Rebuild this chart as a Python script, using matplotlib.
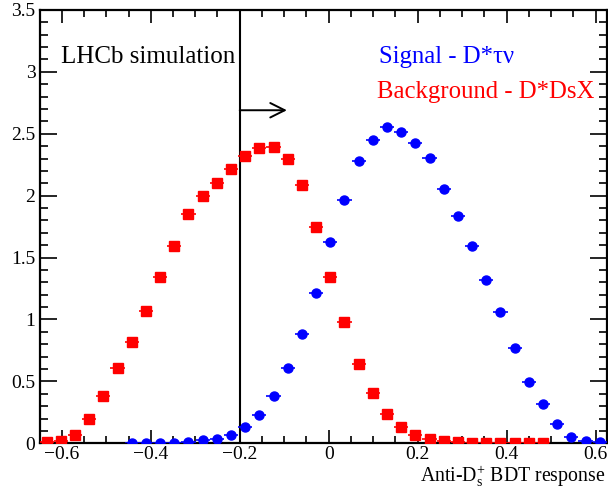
import numpy as np
import matplotlib
matplotlib.use("Agg")
import matplotlib.pyplot as plt
from matplotlib.ticker import MultipleLocator

plt.rcParams['font.family'] = ['Liberation Serif', 'DejaVu Serif']
plt.rcParams['mathtext.fontset'] = 'custom'
plt.rcParams['mathtext.rm'] = 'Liberation Serif'
plt.rcParams['mathtext.it'] = 'Liberation Serif:italic'
plt.rcParams['axes.unicode_minus'] = True

# Histogram binning (40 bins)
x_lo, x_hi, n_bins = -0.65, 0.625, 40

# Signal - D*tau nu (NaN = empty bin)
signal = [np.nan, np.nan, np.nan, np.nan, np.nan, np.nan,
          0.003, 0.003, 0.003, 0.005, 0.010, 0.027, 0.038, 0.067, 0.129,
          0.229, 0.385, 0.606, 0.881, 1.212, 1.622, 1.964, 2.277, 2.449,
          2.557, 2.517, 2.428, 2.301, 2.056, 1.832, 1.594, 1.320, 1.064,
          0.768, 0.496, 0.320, 0.159, 0.054, 0.016, 0.008]

# Background - D*DsX
background = [0.008, 0.020, 0.070, 0.197, 0.385, 0.611, 0.821, 1.070, 1.347,
              1.597, 1.856, 1.994, 2.099, 2.212, 2.317, 2.382, 2.390, 2.293,
              2.083, 1.743, 1.347, 0.980, 0.641, 0.407, 0.237, 0.132, 0.067,
              0.032, 0.021, 0.013, 0.005, 0.005, 0.005, 0.001, 0.001, 0.001,
              np.nan, np.nan, np.nan, np.nan]

cut_value = -0.2

edges = np.linspace(x_lo, x_hi, n_bins + 1)
centers = 0.5 * (edges[:-1] + edges[1:])
half_w = 0.5 * (edges[1] - edges[0])

fig = plt.figure(figsize=(6.08, 4.88), dpi=100)
ax = fig.add_axes([0.065, 0.0916, 0.933, 0.888])

ax.errorbar(centers, background, xerr=half_w, fmt='s', color='#ff0000',
            ms=6.5, elinewidth=1.2, capsize=0, zorder=3)
ax.errorbar(centers, signal, xerr=half_w, fmt='o', color='#0000ff',
            ms=6.5, elinewidth=1.2, capsize=0, zorder=4)

ax.set_xlim(x_lo, x_hi)
ax.set_ylim(0, 3.5)

ax.axvline(cut_value, color='black', lw=1.5, zorder=2)
ax.annotate('', xy=(-0.094, 2.69), xytext=(cut_value, 2.69),
            arrowprops=dict(arrowstyle='->', lw=1.4, color='black',
                            mutation_scale=26, shrinkA=0, shrinkB=0))

ax.text(-0.601, 3.12, 'LHCb simulation', fontsize=18, va='center', ha='left')
ax.text(0.113, 3.12, 'Signal - D*τν', fontsize=17.8, color='#0000ff',
        va='center', ha='left')
ax.text(0.109, 2.84, 'Background - D*DsX', fontsize=17.8, color='#ff0000',
        va='center', ha='left')

fig.text(0.996, 0.024, r'Anti-D$_{\rm s}^{+}$ BDT response', fontsize=14.3,
         ha='right', va='center')

ax.xaxis.set_major_locator(MultipleLocator(0.2))
ax.xaxis.set_minor_locator(MultipleLocator(0.05))
ax.yaxis.set_major_locator(MultipleLocator(0.5))
ax.yaxis.set_minor_locator(MultipleLocator(0.1))
ax.xaxis.set_major_formatter(matplotlib.ticker.FuncFormatter(
    lambda v, p: ('%g' % round(v, 2)).replace('-', '\u2212')))
ax.yaxis.set_major_formatter(matplotlib.ticker.FuncFormatter(
    lambda v, p: '%g' % round(v, 2)))

ax.tick_params(axis='both', which='both', direction='in', top=True, right=True,
               labelsize=14, width=1.2)
ax.tick_params(axis='x', which='major', length=9.5, pad=2)
ax.tick_params(axis='x', which='minor', length=5)
ax.tick_params(axis='y', which='major', length=12, pad=3)
ax.tick_params(axis='y', which='minor', length=6)
for s in ax.spines.values():
    s.set_linewidth(1.6)

fig.savefig('out.png', dpi=100)
